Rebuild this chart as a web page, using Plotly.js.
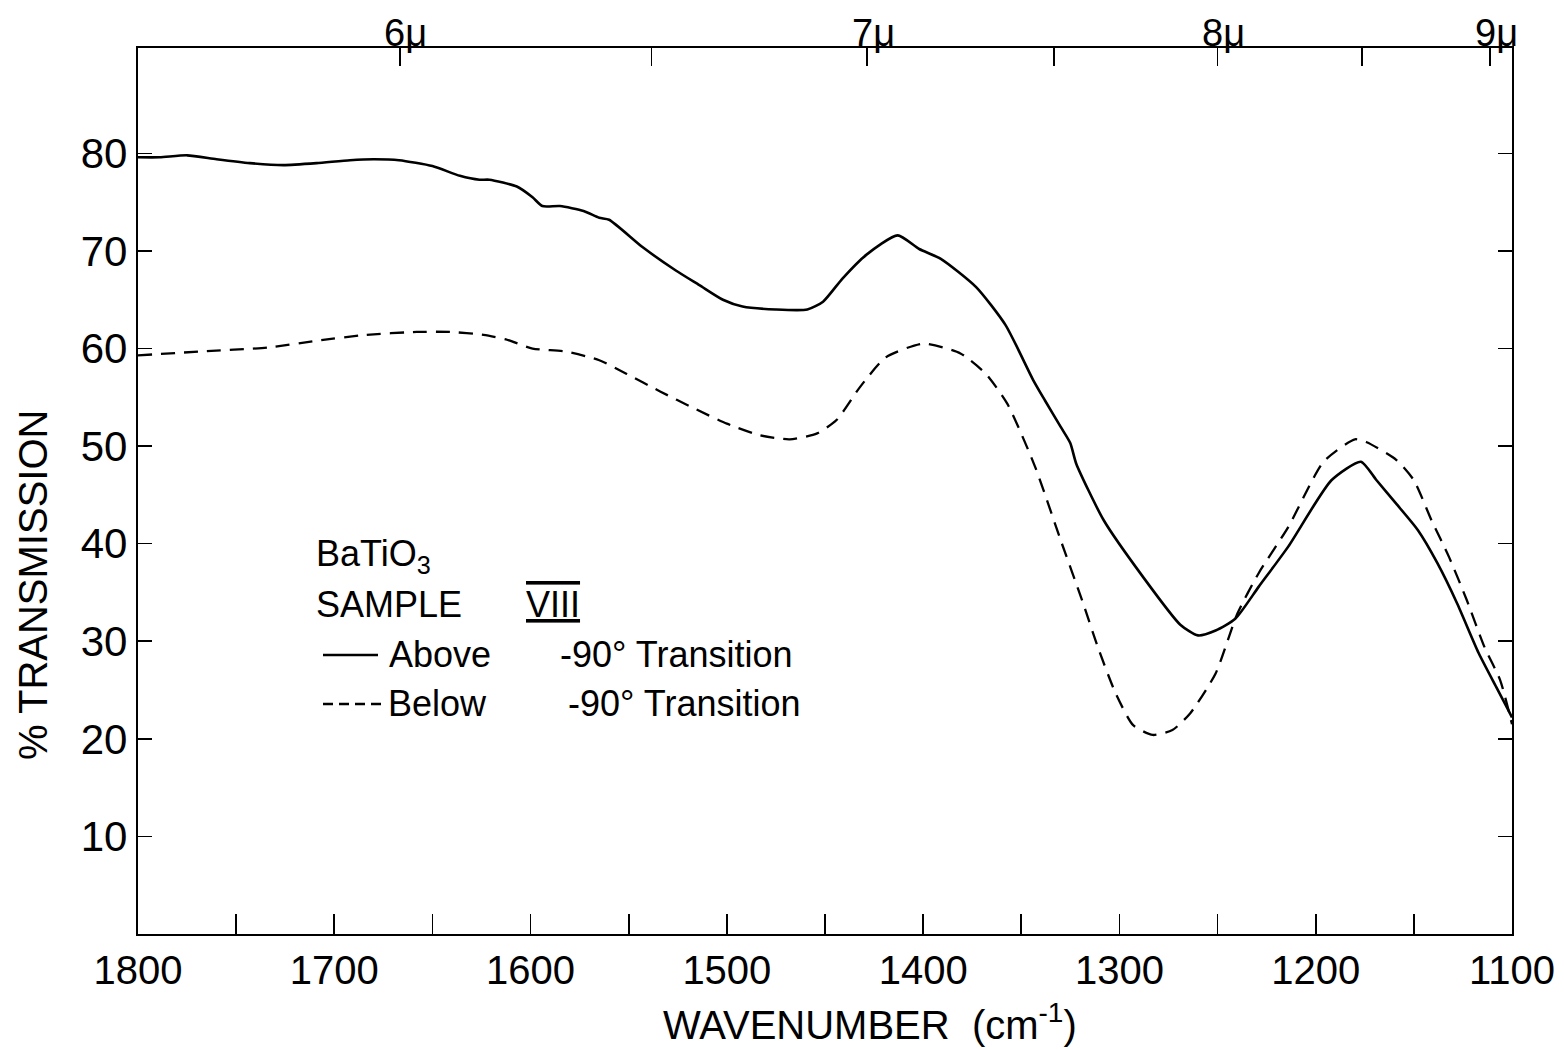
<!DOCTYPE html>
<html>
<head>
<meta charset="utf-8">
<script src="https://cdn.plot.ly/plotly-3.0.1.min.js"></script>
<style>
  html, body { margin: 0; padding: 0; background: #ffffff; }
  #chart { width: 1564px; height: 1050px; }
</style>
</head>
<body>
<div id="chart"></div>
<script>
// ---- data ----
const aboveWavenumber = [1800,1789,1775,1760,1743,1726,1709,1692,1680,1667,1650,1636,1626,1621,1607,1599,1594,1585,1573,1565,1560,1543,1526,1514,1502,1492,1475,1459,1451,1441,1429,1413,1402,1391,1373,1358,1344,1338,1330,1325,1322,1308,1288,1269,1260,1251,1241,1229,1214,1192,1177,1169,1159,1148,1138,1128,1117,1108,1102,1100];
const aboveTransmission = [79.6,79.6,79.8,79.4,79.0,78.8,79.0,79.3,79.4,79.3,78.7,77.7,77.3,77.3,76.6,75.5,74.6,74.6,74.1,73.4,73.2,70.4,68.0,66.5,65.0,64.3,64.0,64.0,64.8,67.2,69.6,71.6,70.2,69.2,66.3,62.4,56.8,54.7,52.0,50.3,48.2,42.4,36.6,31.7,30.6,31.1,32.3,35.6,39.7,46.5,48.4,46.5,44.1,41.4,38.0,33.9,28.8,25.3,23.0,22.2];

const belowWavenumber = [1800,1768,1734,1709,1684,1658,1641,1624,1612,1599,1582,1565,1551,1534,1517,1500,1483,1468,1454,1444,1432,1419,1400,1381,1368,1357,1343,1330,1319,1311,1302,1293,1283,1273,1264,1251,1240,1229,1214,1196,1180,1174,1159,1150,1141,1132,1123,1114,1106,1100];
const belowTransmission = [59.3,59.7,60.1,60.8,61.4,61.7,61.7,61.4,60.9,60.0,59.7,58.8,57.4,55.6,53.9,52.3,51.1,50.7,51.3,52.7,56.1,59.1,60.5,59.5,57.4,54.3,47.9,40.4,34.2,29.4,24.7,21.4,20.4,20.9,22.6,26.7,32.8,37.0,41.7,48.4,50.7,50.4,48.6,46.5,42.4,38.6,34.2,29.4,26.0,21.5];

const wavenumberTicks = [1800,1700,1600,1500,1400,1300,1200,1100];
const wavenumberLabels = ['1800','1700','1600','1500','1400','1300','1200','1100'];
const wavenumberMinorTicks = [1750,1650,1550,1450,1350,1250,1150];
const micronTicks = [6, 6.5, 7, 7.5, 8, 8.5, 9];
const micronLabels = ['6\u03bc','','7\u03bc','','8\u03bc','','9\u03bc'];
const transmissionTicks = [10,20,30,40,50,60,70,80];
const transmissionLabels = ['10','20','30','40','50','60','70','80'];

// ---- layout helpers ----
const W = 1564, H = 1050;
const L = 138, R = 1512, T = 48, B = 934;
const px = x => (x - L) / (R - L);
const py = y => (B - y) / (B - T);
const FONT = 'Liberation Sans, Arial, sans-serif';

const traces = [
  {
    x: aboveWavenumber, y: aboveTransmission, type: 'scatter', mode: 'lines',
    line: {color: '#000', width: 2.6, shape: 'spline', smoothing: 0.6},
    xaxis: 'x', yaxis: 'y', hoverinfo: 'skip', showlegend: false
  },
  {
    x: belowWavenumber, y: belowTransmission, type: 'scatter', mode: 'lines',
    line: {color: '#000', width: 2.3, shape: 'spline', smoothing: 0.6, dash: '14px,9px'},
    xaxis: 'x2', yaxis: 'y', hoverinfo: 'skip', showlegend: false
  }
];

const annotations = [
  {text: '% TRANSMISSION', xref: 'paper', yref: 'paper', x: px(33), y: py(585),
   showarrow: false, textangle: -90, xanchor: 'center', yanchor: 'middle',
   font: {family: FONT, size: 40, color: '#000'}},
  {text: 'WAVENUMBER\u00a0\u00a0(cm<sup>-1</sup>)', xref: 'paper', yref: 'paper', x: px(870), y: py(1022),
   showarrow: false, xanchor: 'center', yanchor: 'middle',
   font: {family: FONT, size: 40, color: '#000'}},
  {text: 'BaTiO<sub>3</sub>', xref: 'paper', yref: 'paper', x: px(314), y: py(556),
   showarrow: false, xanchor: 'left', yanchor: 'middle',
   font: {family: FONT, size: 36, color: '#000'}},
  {text: 'SAMPLE', xref: 'paper', yref: 'paper', x: px(314), y: py(604),
   showarrow: false, xanchor: 'left', yanchor: 'middle',
   font: {family: FONT, size: 36, color: '#000'}},
  {text: '<span style="text-decoration:underline overline">VIII</span>', xref: 'paper', yref: 'paper', x: px(524), y: py(604),
   showarrow: false, xanchor: 'left', yanchor: 'middle',
   font: {family: FONT, size: 36, color: '#000'}},
  {text: 'Above', xref: 'paper', yref: 'paper', x: px(387), y: py(654),
   showarrow: false, xanchor: 'left', yanchor: 'middle',
   font: {family: FONT, size: 36, color: '#000'}},
  {text: '-90\u00b0 Transition', xref: 'paper', yref: 'paper', x: px(558), y: py(654),
   showarrow: false, xanchor: 'left', yanchor: 'middle',
   font: {family: FONT, size: 36, color: '#000'}},
  {text: 'Below', xref: 'paper', yref: 'paper', x: px(386), y: py(703),
   showarrow: false, xanchor: 'left', yanchor: 'middle',
   font: {family: FONT, size: 36, color: '#000'}},
  {text: '-90\u00b0 Transition', xref: 'paper', yref: 'paper', x: px(566), y: py(703),
   showarrow: false, xanchor: 'left', yanchor: 'middle',
   font: {family: FONT, size: 36, color: '#000'}}
];

// micron labels on the top axis, positioned through the data x scale
micronTicks.forEach((m, i) => {
  if (!micronLabels[i]) return;
  annotations.push({
    text: micronLabels[i], xref: 'x', yref: 'paper', x: 10000 / m, y: py(33),
    showarrow: false, xanchor: 'center', yanchor: 'middle', xshift: 6,
    font: {family: FONT, size: 38, color: '#000'}
  });
});

const layout = {
  width: W, height: H,
  margin: {l: L, r: W - R, t: T, b: H - B, pad: 0},
  paper_bgcolor: '#fff', plot_bgcolor: '#fff',
  font: {family: FONT, color: '#000'},
  showlegend: false,
  xaxis: {
    range: [1800, 1100], autorange: false,
    tickmode: 'array', tickvals: wavenumberTicks, ticktext: wavenumberLabels,
    ticks: 'inside', ticklen: 20, tickwidth: 1.6, tickcolor: '#000',
    minor: {tickmode: 'array', tickvals: wavenumberMinorTicks, ticks: 'inside',
            ticklen: 20, tickwidth: 1.6, tickcolor: '#000', showgrid: false},
    showline: true, linecolor: '#000', linewidth: 2.2, mirror: false,
    showgrid: false, zeroline: false,
    tickfont: {family: FONT, size: 40, color: '#000'},
    ticklabelstandoff: 0
  },
  xaxis2: {
    overlaying: 'x', side: 'top', anchor: 'y',
    range: [1800, 1100], autorange: false,
    tickmode: 'array', tickvals: micronTicks.map(m => 10000 / m),
    showticklabels: false,
    ticks: 'inside', ticklen: 18, tickwidth: 1.6, tickcolor: '#000',
    showline: true, linecolor: '#000', linewidth: 2.2,
    showgrid: false, zeroline: false
  },
  yaxis: {
    range: [0, 90.8], autorange: false,
    tickmode: 'array', tickvals: transmissionTicks, ticktext: transmissionLabels,
    ticks: 'inside', ticklen: 14, tickwidth: 1.6, tickcolor: '#000',
    showline: true, linecolor: '#000', linewidth: 2.2, mirror: 'ticks',
    showgrid: false, zeroline: false,
    tickfont: {family: FONT, size: 42, color: '#000'},
    ticklabelstandoff: 0
  },
  shapes: [
    {type: 'line', xref: 'paper', yref: 'paper', x0: px(323), x1: px(378), y0: py(655), y1: py(655),
     line: {color: '#000', width: 2.4}},
    {type: 'line', xref: 'paper', yref: 'paper', x0: px(323), x1: px(384), y0: py(704), y1: py(704),
     line: {color: '#000', width: 2.4, dash: '10px,6px'}}
  ],
  annotations: annotations
};

Plotly.newPlot('chart', traces, layout, {displayModeBar: false, staticPlot: true});
</script>
</body>
</html>
